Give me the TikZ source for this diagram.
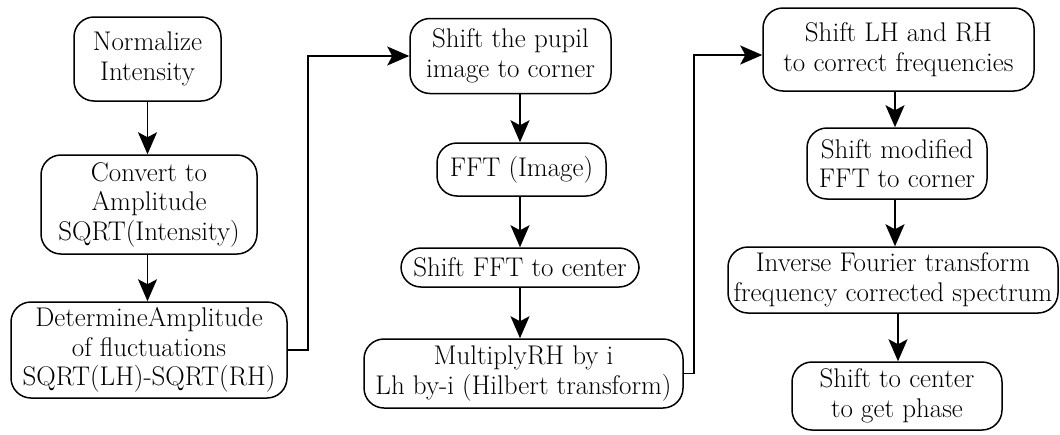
\documentclass[tikz,border=0pt]{standalone}
\usetikzlibrary{arrows.meta}
\begin{document}
\begin{tikzpicture}[x=1pt,y=-1pt,
  box/.style={draw,line width=1.5pt,rounded corners=20pt,align=center,
    inner sep=0pt,font=\fontsize{27}{29.5}\selectfont},
  arr/.style={line width=1.7pt,-{Stealth[length=22pt,width=19pt,inset=5pt]}}]
\useasboundingbox[fill=white] (0,0) rectangle (1060,434);
% column 1
\node[box,minimum width=147pt,minimum height=84pt] (n1) at (147.5,59) {Normalize\\Intensity};
\node[box,minimum width=216pt,minimum height=99pt] (n2) at (149,204.5) {Convert to\\Amplitude\\SQRT(Intensity)};
\node[box,minimum width=276pt,minimum height=96pt] (n3) at (149,350) {DetermineAmplitude\\of fluctuations\\SQRT(LH)-SQRT(RH)};
% column 2
\node[box,minimum width=201pt,minimum height=75pt] (n4) at (510.5,56) {Shift the pupil\\image to corner};
\node[box,minimum width=169pt,minimum height=53pt] (n5) at (521.5,169.5) {FFT (Image)};
\node[box,minimum width=238pt,minimum height=39pt] (n6) at (520,267.5) {Shift FFT to center};
\node[box,minimum width=319pt,minimum height=69pt] (n7) at (523.5,373.5) {MultiplyRH by i\\Lh by-i (Hilbert transform)};
% column 3
\node[box,minimum width=271pt,minimum height=83pt] (n8) at (898.5,49.5) {Shift LH and RH\\to correct frequencies};
\node[box,minimum width=180pt,minimum height=71pt] (n9) at (897,163.5) {Shift modified\\FFT to corner};
\node[box,minimum width=330pt,minimum height=66pt] (n10) at (893,280) {Inverse Fourier transform\\frequency corrected spectrum};
\node[box,minimum width=210pt,minimum height=68pt] (n11) at (897,396) {Shift to center\\to get phase};
% vertical arrows
\draw[arr] (n1.south) -- (n1.south |- n2.north);
\draw[arr] (n1.south |- n2.south) -- (n1.south |- n3.north);
\draw[arr] (n6.north |- n4.south) -- (n6.north |- n5.north);
\draw[arr] (n6.north |- n5.south) -- (n6.north);
\draw[arr] (n6.south) -- (n6.south |- n7.north);
\draw[arr] ([xshift=-2pt]n9.north |- n8.south) -- ([xshift=-2pt]n9.north);
\draw[arr] ([xshift=-2pt]n9.south) -- ([xshift=-2pt]n9.south |- n10.north);
\draw[arr] ([xshift=1pt]n11.north |- n10.south) -- ([xshift=1pt]n11.north);
% elbow connectors
\draw[arr] (n3.east) -- ++(20,0) |- (n4.west);
\draw[arr] (n7.east) -- ++(10,0) |- ([yshift=-5.5pt]n8.west);
\end{tikzpicture}
\end{document}
